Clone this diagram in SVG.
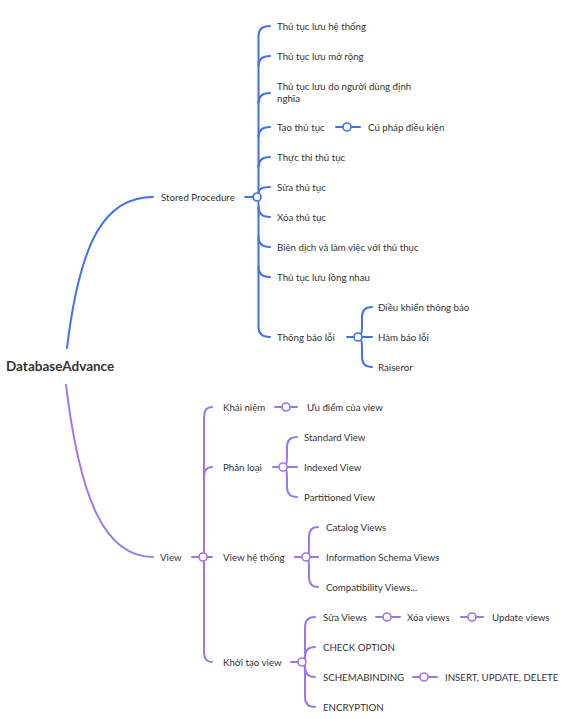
<svg xmlns="http://www.w3.org/2000/svg" width="563" height="719" viewBox="0 0 563 719">
<style>
.b{fill:none;stroke:#4070f4;stroke-width:2;stroke-linecap:round}
.p{fill:none;stroke:#9f75ee;stroke-width:2;stroke-linecap:round}
.hb{fill:#fff;stroke:#4070f4;stroke-width:1.6}
.hp{fill:#fff;stroke:#9f75ee;stroke-width:1.6}
text{font-family:Lato,"Liberation Sans",sans-serif;font-size:9.7px;fill:#333}
.root{font-size:13.5px;font-weight:bold;fill:#333}
</style>
<rect width="563" height="719" fill="#fff"/>
<g id="connectors">
<path class="b" d="M67,348 C80,240 105,197 153,197"/>
<path class="p" d="M66,385 C80,500 105,557 153,557"/>
<path class="b" d="M245,197 L253,197"/>
<g class="b">
<path d="M257,197 Q258.5,197 258.5,187 L258.5,36 Q258.5,26 270,26"/>
<path d="M258.5,66 Q258.5,56 270,56"/>
<path d="M258.5,103 Q258.5,93 270,93"/>
<path d="M258.5,137 Q258.5,127 270,127"/>
<path d="M258.5,167 Q258.5,157 270,157"/>
<path d="M257,197 Q258.5,197 258.5,193 Q258.5,187 270,187"/>
<path d="M257,197 Q258.5,197 258.5,207 L258.5,327 Q258.5,337 270,337"/>
<path d="M258.5,207 Q258.5,217 270,217"/>
<path d="M258.5,237 Q258.5,247 270,247"/>
<path d="M258.5,267 Q258.5,277 270,277"/>
<path d="M336,127 L343,127 M351,127 L360,127"/>
<path d="M347,337 L354,337"/>
<path d="M358,337 Q362,337 362,327 L362,317 Q362,307 372,307"/>
<path d="M358,337 L372,337"/>
<path d="M358,337 Q362,337 362,347 L362,357 Q362,367 372,367"/>
</g>
<circle class="hb" cx="257" cy="197" r="4"/>
<circle class="hb" cx="347" cy="127" r="4"/>
<circle class="hb" cx="358" cy="337" r="4"/>
<g class="p">
<path d="M192,557 L199,557"/>
<path d="M203,557 Q204,557 204,547 L204,417 Q204,407 212,407"/>
<path d="M204,477 Q204,467 212,467"/>
<path d="M203,557 L212,557"/>
<path d="M203,557 Q204,557 204,567 L204,652 Q204,662 212,662"/>
<path d="M275,407 L282,407 M290,407 L297,407"/>
<path d="M273,467 L279,467"/>
<path d="M283,467 Q287,467 287,457 L287,447 Q287,437 297,437"/>
<path d="M283,467 L297,467"/>
<path d="M283,467 Q287,467 287,477 L287,487 Q287,497 297,497"/>
<path d="M295,557 L302,557"/>
<path d="M306,557 Q309,557 309,547 L309,537 Q309,527 318,527"/>
<path d="M306,557 L318,557"/>
<path d="M306,557 Q309,557 309,567 L309,577 Q309,587 318,587"/>
<path d="M291,662 L298,662"/>
<path d="M302,662 Q305,662 305,652 L305,627 Q305,617 315,617"/>
<path d="M302,662 Q305,662 305,657 Q305,647 315,647"/>
<path d="M302,662 Q305,662 305,667 Q305,677 315,677"/>
<path d="M302,662 Q305,662 305,672 L305,697 Q305,707 315,707"/>
<path d="M376,617 L383,617 M391,617 L400,617"/>
<path d="M461,617 L468,617 M476,617 L483,617"/>
<path d="M413,677 L420,677 M428,677 L437,677"/>
</g>
<circle class="hp" cx="203" cy="557" r="4"/>
<circle class="hp" cx="286" cy="407" r="4"/>
<circle class="hp" cx="283" cy="467" r="4"/>
<circle class="hp" cx="306" cy="557" r="4"/>
<circle class="hp" cx="302" cy="662" r="4"/>
<circle class="hp" cx="387" cy="617" r="4"/>
<circle class="hp" cx="472" cy="617" r="4"/>
<circle class="hp" cx="424" cy="677" r="4"/>
</g>
<g id="root"><text class="root" x="6" y="371">DatabaseAdvance</text></g>
<g id="stored-procedure"><text x="161" y="200.5">Stored Procedure</text></g>
<g id="sp-1"><text x="277" y="29.5">Thủ tục lưu hệ thống</text></g>
<g id="sp-2"><text x="277" y="59.5">Thủ tục lưu mở rộng</text></g>
<g id="sp-3"><text x="277" y="89.5">Thủ tục lưu do người dùng định</text><text x="277" y="101.5">nghĩa</text></g>
<g id="sp-4"><text x="277" y="130.5">Tạo thủ tục</text></g>
<g id="sp-4-1"><text x="368" y="130.5">Cú pháp điều kiện</text></g>
<g id="sp-5"><text x="277" y="160.5">Thực thi thủ tục</text></g>
<g id="sp-6"><text x="277" y="190.5">Sửa thủ tục</text></g>
<g id="sp-7"><text x="277" y="220.5">Xóa thủ tục</text></g>
<g id="sp-8"><text x="277" y="250.5">Biên dịch và làm việc với thủ thục</text></g>
<g id="sp-9"><text x="277" y="280.5">Thủ tục lưu lồng nhau</text></g>
<g id="sp-10"><text x="277" y="340.5">Thông báo lỗi</text></g>
<g id="sp-10-1"><text x="378" y="310.5">Điều khiển thông báo</text></g>
<g id="sp-10-2"><text x="378" y="340.5">Hàm báo lỗi</text></g>
<g id="sp-10-3"><text x="378" y="370.5">Raiseror</text></g>
<g id="view"><text x="160" y="560.5">View</text></g>
<g id="v-1"><text x="223" y="410.5">Khái niệm</text></g>
<g id="v-1-1"><text x="307" y="410.5">Ưu điểm của view</text></g>
<g id="v-2"><text x="223" y="470.5">Phân loại</text></g>
<g id="v-2-1"><text x="304" y="440.5">Standard View</text></g>
<g id="v-2-2"><text x="304" y="470.5">Indexed View</text></g>
<g id="v-2-3"><text x="304" y="500.5">Partitioned View</text></g>
<g id="v-3"><text x="223" y="560.5">View hệ thống</text></g>
<g id="v-3-1"><text x="326" y="530.5">Catalog Views</text></g>
<g id="v-3-2"><text x="326" y="560.5">Information Schema Views</text></g>
<g id="v-3-3"><text x="326" y="590.5">Compatibility Views...</text></g>
<g id="v-4"><text x="223" y="665.5">Khởi tạo view</text></g>
<g id="v-4-1"><text x="323" y="620.5">Sửa Views</text></g>
<g id="v-4-1-1"><text x="407" y="620.5">Xóa views</text></g>
<g id="v-4-1-1-1"><text x="492" y="620.5">Update views</text></g>
<g id="v-4-2"><text x="323" y="650.5">CHECK OPTION</text></g>
<g id="v-4-3"><text x="323" y="680.5">SCHEMABINDING</text></g>
<g id="v-4-3-1"><text x="445" y="680.5">INSERT, UPDATE, DELETE</text></g>
<g id="v-4-4"><text x="323" y="710.5">ENCRYPTION</text></g>
</svg>
